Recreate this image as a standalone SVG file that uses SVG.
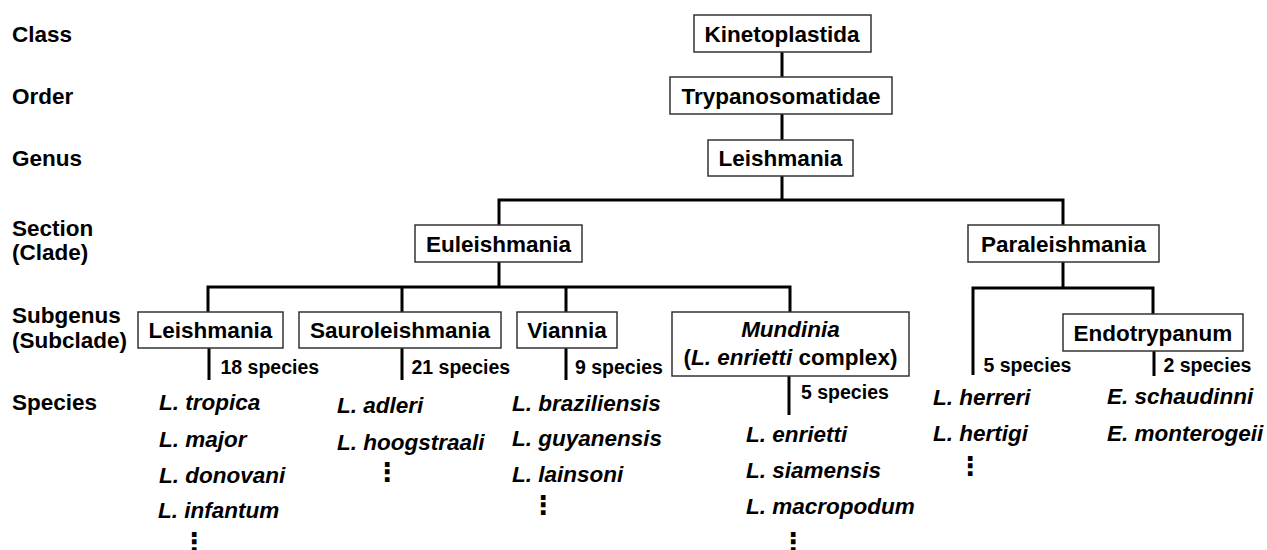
<svg xmlns="http://www.w3.org/2000/svg" width="1267" height="550" viewBox="0 0 1267 550">
<style>
text{font-family:"Liberation Sans",Arial,sans-serif;font-weight:bold;fill:#000}
.lab{font-size:22.5px}
.box{fill:#fff;stroke:#333;stroke-width:1.5}
.bt{font-size:22.5px;text-anchor:middle}
.cnt{font-size:19.5px}
.sp{font-size:22.5px;font-style:italic}
.dots{font-family:"DejaVu Sans",sans-serif;font-size:26px;font-weight:bold}
.ln{fill:none;stroke:#000;stroke-width:3;stroke-linejoin:miter;stroke-linecap:butt}
</style>
<rect width="1267" height="550" fill="#fff"/>
<g id="rank-labels">
<text class="lab" x="12" y="42">Class</text>
<text class="lab" x="12" y="104">Order</text>
<text class="lab" x="12" y="166">Genus</text>
<text class="lab" x="12" y="236">Section</text>
<text class="lab" x="12" y="260">(Clade)</text>
<text class="lab" x="12" y="323">Subgenus</text>
<text class="lab" x="12" y="348">(Subclade)</text>
<text class="lab" x="12" y="410">Species</text>
</g>
<g id="connectors">
<path class="ln" d="M782 52V77M782 114V140M782 176V200"/>
<path class="ln" d="M499 225V200H1063V225"/>
<path class="ln" d="M499 262V287"/>
<path class="ln" d="M208 312V287H790V312M402 287V312M566 287V312"/>
<path class="ln" d="M1063 262V288"/>
<path class="ln" d="M973 375V288H1153V314"/>
<path class="ln" d="M209 348V380M402 348V380M566 348V380M789 376V415M1154 351V376"/>
</g>
<g id="kinetoplastida"><rect class="box" x="694" y="15" width="177" height="37"/><text class="bt" x="782" y="41.5">Kinetoplastida</text></g>
<g id="trypanosomatidae"><rect class="box" x="670" y="77" width="222" height="37"/><text class="bt" x="781" y="103.5">Trypanosomatidae</text></g>
<g id="genus-leishmania"><rect class="box" x="708" y="140" width="145" height="36"/><text class="bt" x="780.5" y="166">Leishmania</text></g>
<g id="euleishmania"><rect class="box" x="415" y="225" width="167" height="37"/><text class="bt" x="498.5" y="251.5">Euleishmania</text></g>
<g id="paraleishmania"><rect class="box" x="968" y="225" width="191" height="37"/><text class="bt" x="1063.5" y="251.5">Paraleishmania</text></g>
<g id="sub-leishmania"><rect class="box" x="138" y="312" width="145" height="36"/><text class="bt" x="210.5" y="338">Leishmania</text>
<text class="cnt" x="220.5" y="373.5">18 species</text>
<text class="sp" x="159" y="410">L. tropica</text>
<text class="sp" x="159" y="447">L. major</text>
<text class="sp" x="159" y="483">L. donovani</text>
<text class="sp" x="158" y="518">L. infantum</text>
<text class="dots" x="181" y="551">⋮</text>
</g>
<g id="sauroleishmania"><rect class="box" x="299" y="312" width="202" height="36"/><text class="bt" x="400" y="338">Sauroleishmania</text>
<text class="cnt" x="411.5" y="373.5">21 species</text>
<text class="sp" x="337" y="413">L. adleri</text>
<text class="sp" x="337" y="450">L. hoogstraali</text>
<text class="dots" x="374" y="481">⋮</text>
</g>
<g id="viannia"><rect class="box" x="517" y="312" width="100" height="36"/><text class="bt" x="567" y="338">Viannia</text>
<text class="cnt" x="575" y="373.5">9 species</text>
<text class="sp" x="512" y="411">L. braziliensis</text>
<text class="sp" x="512" y="446">L. guyanensis</text>
<text class="sp" x="512" y="482">L. lainsoni</text>
<text class="dots" x="530" y="514">⋮</text>
</g>
<g id="mundinia"><rect class="box" x="672" y="312" width="237" height="64"/>
<text class="bt" x="790.5" y="337" font-style="italic">Mundinia</text>
<text class="bt" x="790.5" y="365">(<tspan font-style="italic">L. enrietti</tspan> complex)</text>
<text class="cnt" x="801" y="398.5">5 species</text>
<text class="sp" x="746" y="442">L. enrietti</text>
<text class="sp" x="746" y="478">L. siamensis</text>
<text class="sp" x="746" y="514">L. macropodum</text>
<text class="dots" x="780" y="551">⋮</text>
</g>
<g id="paraleishmania-species">
<text class="cnt" x="983.5" y="372">5 species</text>
<text class="sp" x="933" y="404.5">L. herreri</text>
<text class="sp" x="933" y="441">L. hertigi</text>
<text class="dots" x="957" y="475">⋮</text>
</g>
<g id="endotrypanum"><rect class="box" x="1063" y="314" width="180" height="37"/><text class="bt" x="1153" y="340.5">Endotrypanum</text>
<text class="cnt" x="1163.5" y="372">2 species</text>
<text class="sp" x="1107" y="404">E. schaudinni</text>
<text class="sp" x="1107" y="441">E. monterogeii</text>
</g>
</svg>
